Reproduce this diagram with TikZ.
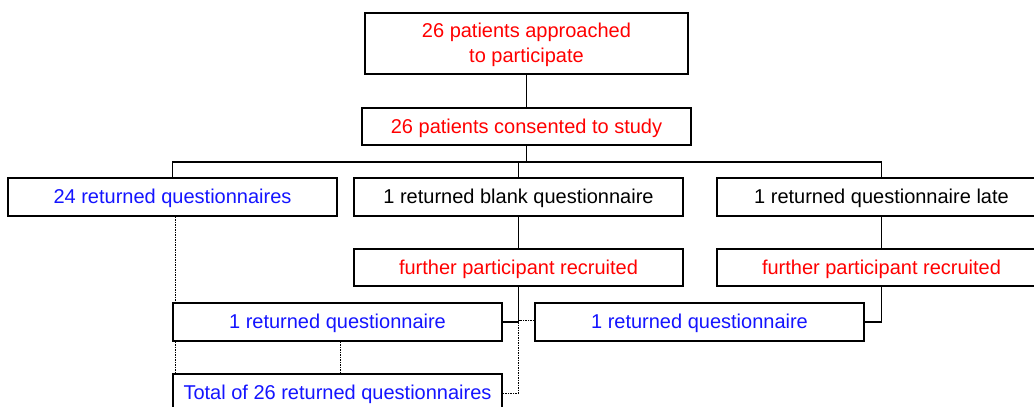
\documentclass[tikz,border=0pt]{standalone}
\usepackage{fontspec}
\setmainfont{Liberation Sans}
\usetikzlibrary{backgrounds}
\definecolor{txtred}{RGB}{255,0,0}
\definecolor{txtblue}{RGB}{20,20,255}
\tikzset{
  box/.style={draw=black, line width=1.2pt, fill=white, rectangle, inner sep=0pt,
    minimum width=329pt, minimum height=38pt, font=\fontsize{20}{24.5}\selectfont, align=center,
    text height=14.5pt, text depth=1.5pt},
  redtxt/.style={text=txtred},
  bluetxt/.style={text=txtblue},
  conn/.style={line width=1.2pt},
  dotconn/.style={line width=1pt, dash pattern=on 1.5pt off 1pt}
}
\begin{document}
\begin{tikzpicture}[x=1pt,y=-1pt]
\useasboundingbox (0,0) rectangle (1034,407);
\node[box, redtxt, minimum width=323pt, minimum height=61pt, text height=37pt, text depth=0pt] (top) at (526.5,43.5) {26 patients approached\\to participate};
\node[box, redtxt, minimum height=37pt] (cons) at (526.5,126.5) {26 patients consented to study};
\node[box, bluetxt] (ret24) at (172.5,197) {24 returned questionnaires};
\node[box] (blank) at (518.5,197) {1 returned blank questionnaire};
\node[box] (late) at (881.5,197) {1 returned questionnaire late};
\node[box, redtxt, minimum height=37pt] (furtherL) at (518.5,267.5) {further participant recruited};
\node[box, redtxt, minimum height=37pt] (furtherR) at (881.5,267.5) {further participant recruited};
\node[box, bluetxt] (left1) at (337.5,322) {1 returned questionnaire};
\node[box, bluetxt] (right1) at (699.5,322) {1 returned questionnaire};
\node[box, bluetxt] (total) at (337.5,393) {Total of 26 returned questionnaires};
\coordinate (hub) at (526.5,162);
\coordinate (joinL) at (518.5,393);
\begin{scope}[on background layer]
\draw[dotconn] ([xshift=2.5pt]ret24.south) -- ([xshift=2.5pt]ret24.south |- total.north);
\end{scope}
\draw[conn] (top) -- (cons);
\draw[conn] (cons.south) -- (hub);
\draw[conn] (ret24.north) |- (hub) -| (late.north);
\draw[conn] (blank.north) -- (blank.north |- hub);
\draw[conn] (blank) -- (furtherL);
\draw[conn] (late) -- (furtherR);
\draw[conn] (furtherL.south) |- (left1.east);
\draw[conn] (furtherR.south) |- (right1.east);
\draw[dotconn] ([yshift=1.5pt]right1.west) -| (joinL) -- (total.east);
\draw[dotconn] ([xshift=2.5pt]left1.south) -- ([xshift=2.5pt]left1.south |- total.north);
\end{tikzpicture}
\end{document}
